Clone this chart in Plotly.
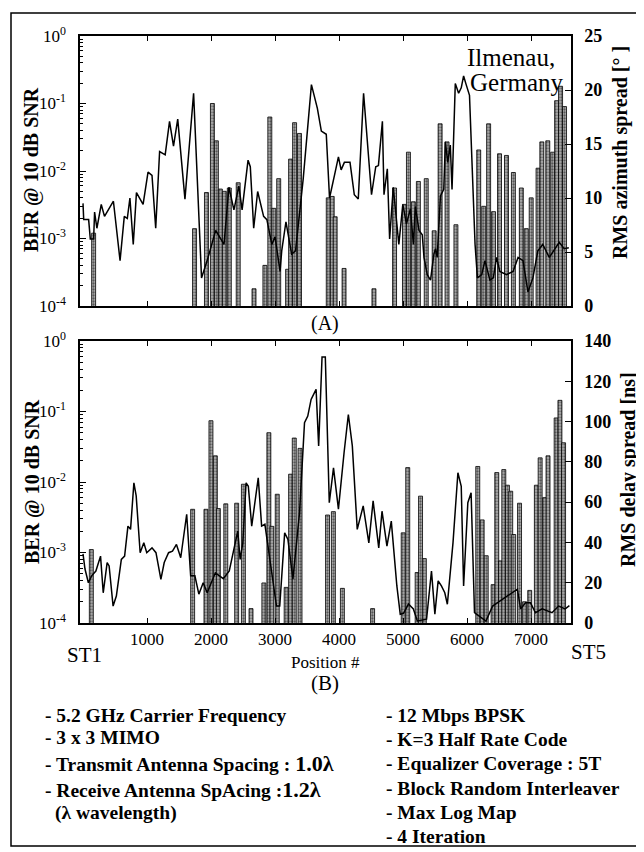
import plotly.graph_objects as go

# ---- panel (A): Ilmenau, RMS azimuth spread + BER bars ----
pos_az = [0, 11, 88, 114, 166, 181, 217, 285, 336, 475, 579, 645, 692, 733, 785, 835, 939,
          1016, 1078, 1136, 1197, 1284, 1352, 1414, 1480, 1593, 1728, 1852, 1945, 2073, 2203,
          2280, 2358, 2435, 2486, 2579, 2614, 2667, 2729, 2822, 2873, 2950, 3001, 3079, 3105,
          3171, 3260, 3321, 3441, 3569, 3662, 3724, 3801, 3852, 3929, 3991, 4033, 4084, 4172,
          4239, 4301, 4384, 4508, 4574, 4616, 4678, 4703, 4755, 4791, 4848, 4935, 4997, 5054,
          5116, 5162, 5193, 5250, 5301, 5328, 5379, 5430, 5483, 5507, 5534, 5585, 5637, 5662,
          5699, 5739, 5766, 5817, 5869, 5910, 5947, 5987, 6039, 6126, 6163, 6230, 6281, 6358,
          6411, 6462, 6513, 6617, 6720, 6798, 6875, 6952, 7030, 7107, 7184, 7286, 7390, 7441,
          7518, 7591]
az_spread = [9.5, 8.0, 8.0, 6.2, 6.2, 8.7, 7.2, 9.4, 8.3, 9.7, 4.2, 8.3, 8.1, 10.0, 5.7, 10.5, 9.4,
             12.4, 12.1, 7.2, 14.3, 14.0, 17.1, 14.8, 17.3, 9.9, 19.7, 2.6, 4.3, 7.0, 5.7,
             11.0, 8.9, 11.1, 8.9, 13.5, 12.9, 7.2, 10.6, 8.3, 8.0, 5.7, 6.4, 3.2, 5.1,
             7.8, 4.8, 5.1, 11.8, 20.5, 18.3, 16.2, 15.9, 10.0, 12.1, 13.8, 12.6, 13.3, 13.3,
             10.3, 9.9, 19.7, 10.3, 12.9, 13.0, 17.1, 10.3, 12.7, 6.2, 11.0, 5.7, 9.4, 7.6,
             9.0, 5.7, 9.2, 7.0, 6.6, 4.5, 2.9, 2.4, 4.8, 5.3, 4.5, 10.2, 10.8, 15.2,
             13.3, 14.9, 10.8, 20.6, 19.7, 20.2, 21.3, 20.5, 19.5, 5.7, 2.6, 2.9, 4.2, 2.4,
             2.6, 4.5, 3.2, 2.9, 3.2, 4.5, 4.2, 1.3, 2.6, 5.1, 5.7, 4.5, 5.4, 5.9,
             5.3, 5.4]

pos_ber_a = [166, 1743, 1929, 2022, 2084, 2146, 2208, 2286, 2425, 2672, 2842, 2919, 2981, 3058,
             3197, 3244, 3306, 3383, 3832, 3894, 3940, 4079, 4546, 4868, 5023, 5085, 5162, 5240,
             5363, 5487, 5580, 5688, 5827, 6183, 6261, 6338, 6415, 6508, 6617, 6725, 6849, 6926,
             7003, 7110, 7169, 7262, 7339, 7400, 7462, 7524]
ber_a = [1.2e-3, 1.4e-3, 4.8e-3, 0.1, 0.028, 5.4e-3, 5e-3, 5.6e-3, 6.7e-3, 1.8e-4, 4e-4, 0.063,
         2.8e-3, 7.7e-3, 3.5e-4, 0.015, 0.052, 0.036, 4e-3, 4.2e-3, 2.1e-3, 3.6e-4, 1.8e-4,
         5.6e-3, 3.2e-3, 0.019, 3.5e-3, 7e-3, 7.7e-3, 1.3e-3, 0.05, 0.027, 1.6e-3, 0.0205,
         3e-3, 0.05, 2.5e-3, 0.018, 0.017, 9.5e-3, 5.6e-3, 1.4e-3, 4e-3, 0.011, 0.027, 0.028,
         0.019, 0.11, 0.18, 0.09]

# ---- panel (B): RMS delay spread + BER bars ----
pos_ds = [0, 31, 84, 135, 201, 274, 316, 377, 408, 470, 521, 599, 650, 702, 743, 795, 831, 893,
          950, 996, 1078, 1140, 1217, 1269, 1337, 1398, 1460, 1527, 1620, 1682, 1748, 1810,
          1878, 1940, 2068, 2192, 2285, 2418, 2455, 2497, 2548, 2583, 2636, 2738, 2791, 2842,
          3023, 3074, 3151, 3202, 3280, 3383, 3461, 3512, 3564, 3600, 3642, 3682, 3735, 3786,
          3848, 3914, 3991, 4079, 4146, 4208, 4285, 4378, 4466, 4533, 4621, 4672, 4749, 4817,
          4904, 4957, 5008, 5085, 5162, 5224, 5368, 5445, 5498, 5549, 5600, 5653, 5693, 5781,
          5858, 5910, 5947, 6013, 6064, 6117, 6296, 6400, 6555, 6709, 6787, 6838, 6915, 6992,
          7070, 7174, 7328, 7432, 7534, 7600]
delay_spread = [34.3, 26.8, 20.0, 23.4, 25.8, 33.2, 15.0, 30.0, 28.3, 8.4, 13.4, 31.6, 33.2, 48.1,
                46.5, 69.6, 63.1, 34.9, 39.8, 34.9, 37.3, 34.9, 21.7, 30.0, 34.9, 35.7, 39.0, 32.4,
                54.0, 23.4, 23.4, 14.3, 20.0, 15.0, 24.9, 22.0, 25.8, 45.6, 31.6, 39.8, 69.6, 67.9,
                48.1, 72.1, 48.1, 49.0, 8.4, 8.4, 44.8, 41.5, 21.8, 54.7, 99.4, 102.7, 111.0,
                113.5, 116.0, 87.9, 132.1, 132.1, 59.7, 77.0, 56.5, 84.5, 103.5, 87.9, 46.5,
                58.1, 39.8, 60.6, 37.3, 55.5, 38.2, 50.6, 18.4, 4.3, 4.8, 9.4, 7.0, 1.0, 1.9,
                25.8, 4.4, 20.9, 18.4, 15.0, 9.3, 39.8, 74.6, 67.9, 18.4, 59.7, 64.7, 5.1, 1.0,
                8.4, 11.9, 15.0, 16.8, 7.0, 10.0, 10.0, 5.1, 7.0, 5.1, 8.4, 7.0, 8.6]

pos_ber_b = [130, 1713, 1921, 1999, 2068, 2115, 2231, 2401, 2506, 2625, 2826, 2904, 2950, 3035,
             3174, 3244, 3301, 3391, 3821, 3912, 4053, 4525, 5003, 5074, 5221, 5274, 5333, 6168,
             6237, 6300, 6408, 6465, 6524, 6575, 6632, 6683, 6730, 6821, 6900, 6980, 7084, 7143,
             7212, 7266, 7393, 7452, 7509]
ber_b = [1.1e-3, 4.1e-3, 4.1e-3, 0.074, 0.0235, 4.2e-3, 4.9e-3, 5e-3, 9.3e-3, 1.6e-4, 3.7e-4,
         0.05, 2.35e-3, 6.7e-3, 3.2e-4, 0.0129, 0.042, 0.03, 3.4e-3, 3.8e-3, 3.1e-4, 1.6e-4,
         1.9e-3, 0.016, 5.2e-4, 6.3e-3, 8.2e-4, 0.0166, 2.9e-3, 9e-4, 3.5e-4, 0.0136, 7.6e-4,
         0.015, 9e-3, 7.4e-3, 1.8e-3, 5e-3, 2e-4, 2.9e-4, 9e-3, 0.022, 6e-3, 0.0235, 0.081,
         0.144, 0.036]

x_ticks = [1000, 2000, 3000, 4000, 5000, 6000, 7000]
ber_ticks = [1e-4, 1e-3, 1e-2, 1e-1, 1]
ber_labels = ["10<sup>-4</sup>", "10<sup>-3</sup>", "10<sup>-2</sup>", "10<sup>-1</sup>", "10<sup>0</sup>"]
ber_minor = [m * 10.0 ** e for e in (-4, -3, -2, -1) for m in (2, 3, 4, 5, 6, 7, 8, 9)]

# the page body adds an 8px margin, so the figure is drawn 8px smaller and
# every position below is given in the reference picture's pixels
PAD = 8
W, H = 644 - PAD, 852 - PAD
L, R, T, B = 80, 571, 36, 623
SERIF = "Liberation Serif, Times New Roman, serif"


def fx(p):
    return (p - L) / (R - L)


def fy(p):
    return (B - p) / (B - T)


bar_style = dict(color="#b0b0b0", line=dict(color="black", width=0.8),
                 pattern=dict(shape=".", fgcolor="black", size=3, solidity=0.45))
line_style = dict(color="black", width=1.5)

fig = go.Figure()
fig.add_trace(go.Bar(x=pos_ber_a, y=ber_a, width=62, marker=bar_style, xaxis="x", yaxis="y"))
fig.add_trace(go.Scatter(x=pos_az, y=az_spread, mode="lines", line=line_style, xaxis="x", yaxis="y2"))
fig.add_trace(go.Bar(x=pos_ber_b, y=ber_b, width=62, marker=bar_style, xaxis="x2", yaxis="y3"))
fig.add_trace(go.Scatter(x=pos_ds, y=delay_spread, mode="lines", line=line_style, xaxis="x2", yaxis="y4"))

xcommon = dict(range=[-47, 7625], tickvals=x_ticks, ticks="inside", ticklen=5, tickcolor="black",
               showline=True, linecolor="black", linewidth=1.5, mirror="ticks",
               showgrid=False, zeroline=False, domain=[0, 1])
ylog = dict(type="log", range=[-4, 0], tickvals=ber_ticks, ticktext=ber_labels, ticks="inside",
            ticklen=6, tickcolor="black", showline=True, linecolor="black", linewidth=1.5,
            showgrid=False, zeroline=False, ticklabelstandoff=9,
            tickfont=dict(family=SERIF, size=17, color="black"),
            minor=dict(tickvals=ber_minor, ticks="inside", ticklen=3, tickcolor="black", showgrid=False))
yright = dict(side="right", ticks="inside", ticklen=6, tickcolor="black", showline=True,
              linecolor="black", linewidth=1.5, showgrid=False, zeroline=False, ticklabelstandoff=8,
              tickfont=dict(family=SERIF, size=18, color="black", weight="bold"))

fig.update_layout(
    width=W, height=H,
    margin=dict(l=L - PAD, r=W - (R - PAD), t=T - PAD, b=H - (B - PAD)),
    paper_bgcolor="white", plot_bgcolor="white",
    showlegend=False, barmode="overlay",
    xaxis=dict(**xcommon, anchor="y", showticklabels=False),
    xaxis2=dict(**xcommon, anchor="y3", ticklabelstandoff=0,
                tickfont=dict(family=SERIF, size=17, color="black")),
    yaxis=dict(**ylog, domain=[fy(306), 1], anchor="x"),
    yaxis2=dict(**yright, overlaying="y", anchor="x", range=[0, 25], dtick=5),
    yaxis3=dict(**ylog, domain=[0, fy(341)], anchor="x2"),
    yaxis4=dict(**yright, overlaying="y3", anchor="x2", range=[0, 140], dtick=20),
)


def note(text, x, y, size, bold=False, angle=0, xanchor="center"):
    fig.add_annotation(text=text, x=fx(x), y=fy(y), xref="paper", yref="paper",
                       showarrow=False, textangle=angle, xanchor=xanchor, yanchor="middle",
                       font=dict(family=SERIF, size=size, color="black",
                                 weight="bold" if bold else "normal"))


note("BER @ 10 dB SNR", 32, 170, 20, bold=True, angle=-90)
note("BER @ 10 dB SNR", 32, 482, 20, bold=True, angle=-90)
note("RMS azimuth spread [° ]", 620, 153, 20, bold=True, angle=-90)
note("RMS delay spread [ns]", 628, 470, 20, bold=True, angle=-90)
note("Ilmenau,", 557, 57, 25, xanchor="right")
note("Germany", 566, 83, 25, xanchor="right")
note("(A)", 325, 323, 20)
note("ST1", 84, 655, 21)
note("ST5", 588, 652, 21)
note("Position #", 325, 662, 17)
note("(B)", 325, 683, 21)

left_lines = ["- 5.2 GHz Carrier Frequency", "- 3 x 3 MIMO",
              "- Transmit Antenna Spacing : <span style='font-size:22px'>1.0λ</span>",
              "- Receive Antenna SpAcing :<span style='font-size:22px'>1.2λ</span>",
              "(λ wavelength)"]
left_y = [715, 737, 763, 789, 813]
right_lines = ["- 12 Mbps BPSK", "- K=3 Half Rate Code", "- Equalizer Coverage : 5T",
               "- Block Random Interleaver", "- Max Log Map", "- 4 Iteration"]
right_y = [715, 739, 763, 788, 812, 836]
for i, t in enumerate(left_lines):
    note(t, 43 if i < 4 else 53, left_y[i], 19.5, bold=True, xanchor="left")
for t, y in zip(right_lines, right_y):
    note(t, 384, y, 19.5, bold=True, xanchor="left")

# outer frame of the figure
fig.add_shape(type="rect", xref="paper", yref="paper",
              x0=fx(11), x1=fx(700), y0=fy(846), y1=fy(13),
              line=dict(color="black", width=1.5))

fig.write_html("out.html")
